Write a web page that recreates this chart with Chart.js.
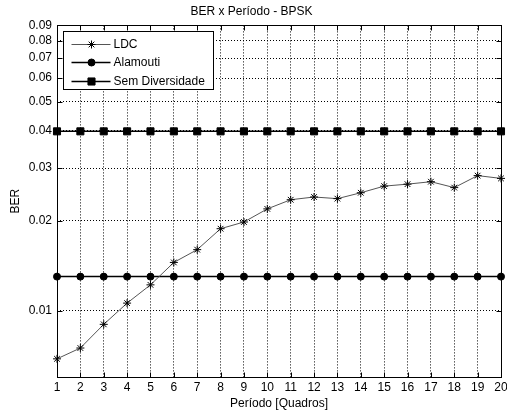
<!DOCTYPE html>
<html>
<head>
<meta charset="utf-8">
<script src="https://cdn.jsdelivr.net/npm/chart.js@4.4.0/dist/chart.umd.min.js"></script>
<style>
  html, body { margin: 0; padding: 0; background: #fff; }
  #wrap { width: 507px; height: 414px; }
</style>
</head>
<body>
<div id="wrap"><canvas id="chart"></canvas></div>
<script>
// ===============================
// Data
// ===============================
const periodos = ['1', '2', '3', '4', '5', '6', '7', '8', '9', '10',
                  '11', '12', '13', '14', '15', '16', '17', '18', '19', '20'];
const ldc = [0.0069, 0.0075, 0.0090, 0.0106, 0.0122, 0.0145, 0.0160, 0.0188, 0.0198, 0.0219,
             0.0235, 0.0240, 0.0237, 0.0248, 0.0261, 0.0265, 0.0270, 0.0258, 0.0283, 0.0277];
const alamouti = [0.0130, 0.0130, 0.0130, 0.0130, 0.0130, 0.0130, 0.0130, 0.0130, 0.0130, 0.0130,
                  0.0130, 0.0130, 0.0130, 0.0130, 0.0130, 0.0130, 0.0130, 0.0130, 0.0130, 0.0130];
const semDiversidade = [0.0398, 0.0398, 0.0398, 0.0398, 0.0398, 0.0398, 0.0398, 0.0398, 0.0398, 0.0398,
                        0.0398, 0.0398, 0.0398, 0.0398, 0.0398, 0.0398, 0.0398, 0.0398, 0.0398, 0.0398];
const berTicks = [0.01, 0.02, 0.03, 0.04, 0.05, 0.06, 0.07, 0.08, 0.09];
const berMin = 0.006;
const berMax = 0.09;

const FONT = { family: '"Liberation Sans", Arial, sans-serif', size: 12 };

// box + inward ticks, matlab style
const matlabBox = {
  id: 'matlabBox',
  afterDatasetsDraw(chart) {
    const { ctx, chartArea: a, scales: { x, y } } = chart;
    const L = Math.round(a.left) + 0.5, R = Math.round(a.right) + 0.5;
    const T = Math.round(a.top) + 0.5, B = Math.round(a.bottom) + 0.5;
    ctx.save();
    ctx.strokeStyle = '#000';
    ctx.lineWidth = 1;
    ctx.beginPath();
    x.ticks.forEach((t, i) => {
      const px = Math.round(x.getPixelForTick(i)) + 0.5;
      ctx.moveTo(px, B); ctx.lineTo(px, B - 5);
      ctx.moveTo(px, T); ctx.lineTo(px, T + 5);
    });
    y.ticks.forEach(t => {
      const py = Math.round(y.getPixelForValue(t.value)) + 0.5;
      ctx.moveTo(L, py); ctx.lineTo(L + 5, py);
      ctx.moveTo(R, py); ctx.lineTo(R - 5, py);
    });
    ctx.stroke();
    ctx.strokeRect(L, T, R - L, B - T);
    ctx.restore();
  }
};

// legend box inside the plot (top-left)
const boxLegend = {
  id: 'boxLegend',
  afterDraw(chart) {
    const { ctx, chartArea: a } = chart;
    const x0 = Math.round(a.left) + 6.5, y0 = Math.round(a.top) + 6.5;
    const w = 150, h = 58;
    ctx.save();
    ctx.fillStyle = '#fff';
    ctx.fillRect(x0, y0, w, h);
    ctx.strokeStyle = '#000';
    ctx.lineWidth = 1;
    ctx.strokeRect(x0, y0, w, h);
    ctx.font = FONT.size + 'px ' + FONT.family;
    ctx.textBaseline = 'middle';
    chart.data.datasets.forEach((ds, i) => {
      const yy = Math.round(y0 + 12 + i * 18.5) + 0.5;
      ctx.strokeStyle = ds.borderColor;
      ctx.lineWidth = ds.borderWidth;
      ctx.beginPath();
      ctx.moveTo(x0 + 8, yy);
      ctx.lineTo(x0 + 47, yy);
      ctx.stroke();
      ctx.fillStyle = ds.pointBackgroundColor;
      ctx.strokeStyle = ds.pointBorderColor;
      ctx.lineWidth = 1;
      Chart.helpers.drawPoint(ctx, {
        pointStyle: ds.pointStyle, radius: ds.pointRadius, rotation: 0, borderWidth: 1
      }, x0 + 28, yy);
      ctx.fillStyle = '#000';
      ctx.fillText(ds.label, x0 + 50, yy);
    });
    ctx.restore();
  }
};

const ctx = document.getElementById('chart').getContext('2d');

new Chart(ctx, {
  type: 'line',
  data: {
    labels: periodos,
    datasets: [
      {
        label: 'LDC',
        data: ldc,
        borderColor: '#555',
        borderWidth: 1,
        pointStyle: 'star',
        pointRadius: 4,
        pointBorderColor: '#000',
        pointBackgroundColor: '#000',
        pointBorderWidth: 1,
        tension: 0,
        clip: false
      },
      {
        label: 'Alamouti',
        data: alamouti,
        borderColor: '#000',
        borderWidth: 1.5,
        pointStyle: 'circle',
        pointRadius: 3.5,
        pointBorderColor: '#000',
        pointBackgroundColor: '#000',
        pointBorderWidth: 1,
        clip: false
      },
      {
        label: 'Sem Diversidade',
        data: semDiversidade,
        borderColor: '#000',
        borderWidth: 1.5,
        pointStyle: 'rect',
        pointRadius: 5,
        pointBorderColor: '#000',
        pointBackgroundColor: '#000',
        pointBorderWidth: 1,
        clip: false
      }
    ]
  },
  options: {
    responsive: true,
    maintainAspectRatio: false,
    animation: false,
    layout: { padding: { top: 0, right: 4, bottom: 0, left: 0 } },
    plugins: {
      legend: { display: false },
      tooltip: { enabled: false },
      title: {
        display: true,
        text: 'BER x Período - BPSK',
        color: '#000',
        font: { ...FONT, weight: 'normal' },
        padding: { top: 4, bottom: 7 }
      }
    },
    scales: {
      x: {
        type: 'category',
        offset: false,
        grid: { color: '#000', lineWidth: 1, drawTicks: false },
        border: { display: false, dash: [1, 2] },
        ticks: { color: '#000', font: FONT, padding: 3, maxRotation: 0, autoSkip: false },
        title: {
          display: true,
          text: 'Período [Quadros]',
          color: '#000',
          font: FONT,
          padding: { top: 0, bottom: 3 }
        },
        afterFit: s => { s.height = 37; s.paddingLeft = 0; s.paddingRight = 0; }
      },
      y: {
        type: 'logarithmic',
        min: berMin,
        max: berMax,
        grid: { color: '#000', lineWidth: 1, drawTicks: false },
        border: { display: false, dash: [1, 2] },
        afterBuildTicks: s => { s.ticks = berTicks.map(v => ({ value: v })); },
        ticks: {
          color: '#000',
          font: FONT,
          padding: 5,
          callback: v => String(v)
        },
        title: {
          display: true,
          text: 'BER',
          color: '#000',
          font: FONT,
          padding: { top: 8, bottom: 0 }
        },
        afterFit: s => { s.width = 57; }
      }
    }
  },
  plugins: [matlabBox, boxLegend]
});
</script>
</body>
</html>
